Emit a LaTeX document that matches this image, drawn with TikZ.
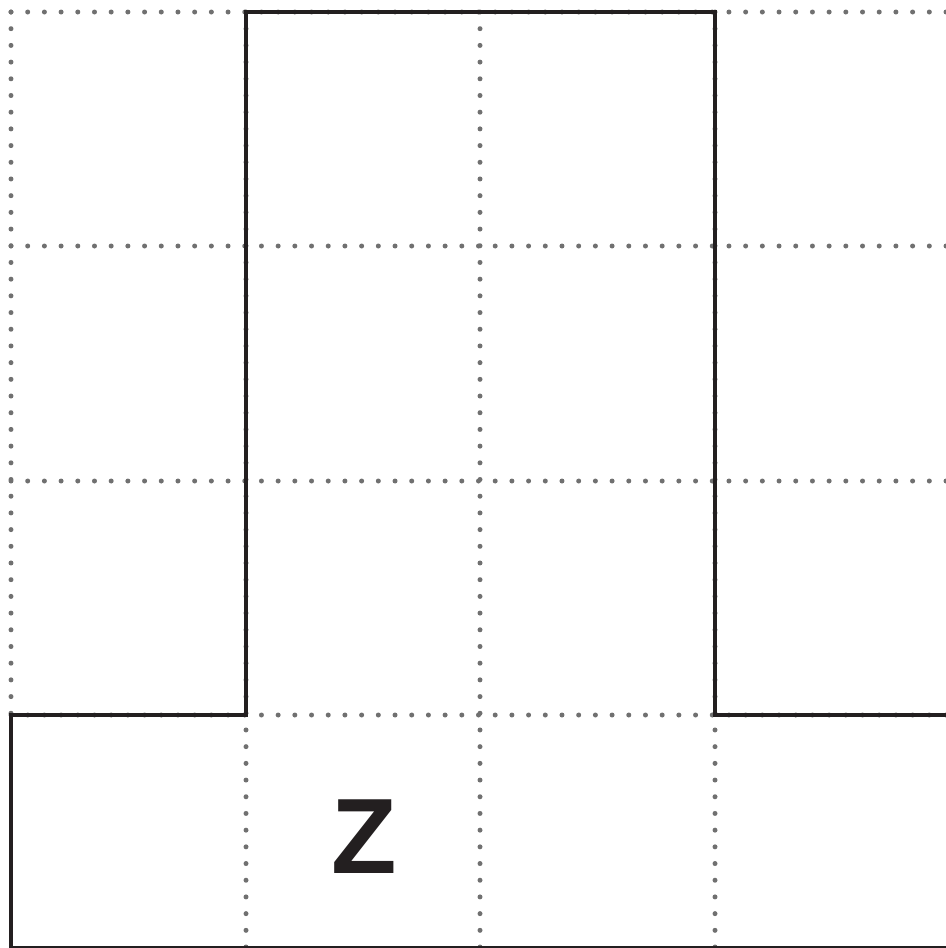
\documentclass[tikz,border=0pt]{standalone}
\usepackage{fontspec}
\setmainfont{Liberation Sans}
\definecolor{ink}{RGB}{35,31,32}
\definecolor{dotgray}{RGB}{112,112,112}
\tikzset{
  gridline/.style={draw=dotgray, line width=0.1cm, line cap=round, dash pattern=on 0pt off 0.334cm},
  outline/.style={draw=ink, line width=0.095cm, line join=miter},
  letter/.style={font=\fontsize{61}{61}\selectfont\bfseries, text=ink, inner sep=0pt}
}
\begin{document}
\begin{tikzpicture}[x=0.02cm,y=-0.02cm]
\useasboundingbox (0,0) rectangle (946,948);
\clip (0,0) rectangle (946,948);
% dotted grid
\foreach \yy in {12,246,481,715} \draw[gridline] (11,\yy) -- (950,\yy);
\draw[gridline] (11,12) -- (11,715);
\foreach \xx in {246,480,715} \draw[gridline] (\xx,12) -- (\xx,955);
% solid outline
\draw[outline] (950,715) -- (715,715) -- (715,12) -- (246,12) -- (246,715) -- (11,715) -- (11,948) -- (950,948);
% letter
\node[letter] (z) at (364,837) {Z};
\end{tikzpicture}
\end{document}
